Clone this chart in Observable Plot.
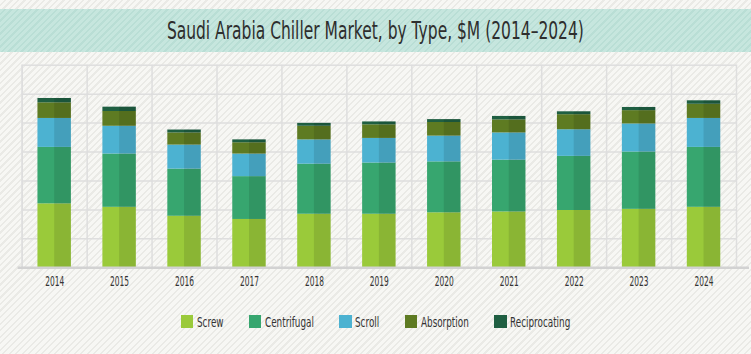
<!DOCTYPE html>
<html>
<head>
<meta charset="utf-8">
<script src="https://cdn.jsdelivr.net/npm/d3@7"></script>
<script src="https://cdn.jsdelivr.net/npm/@observablehq/plot@0.6"></script>
<style>
  html, body { margin: 0; padding: 0; }
  body {
    width: 751px; height: 354px; position: relative; overflow: hidden;
    background: repeating-linear-gradient(135deg, #f7f7f4 0px, #f7f7f4 3px, #eaeae6 3px, #eaeae6 4.6px);
    font-family: "DejaVu Sans", sans-serif;
    color: #333;
  }
  #banner {
    position: absolute; top: 9px; left: 0; width: 751px; height: 43px;
    background: repeating-linear-gradient(135deg, #c6e6de 0px, #c6e6de 3px, #b9ded5 3px, #b9ded5 4.6px);
    display: flex; align-items: center; justify-content: center;
  }
  #title { display: inline-block; font-size: 25px; color: #2e2e2e; white-space: nowrap; transform-origin: center; margin: 0; font-weight: normal; }
  #chart { position: absolute; top: 52px; left: 0; }
  #legend {
    position: absolute; top: 314px; left: 0; width: 751px; height: 15px;
    display: flex; justify-content: center; align-items: center; gap: 25.5px;
    font-size: 14px; color: #333;
  }
  .item { display: flex; align-items: center; }
  .sw { width: 12.5px; height: 12.5px; margin-right: 3.5px; flex: none; }
  .lbwrap { display: inline-block; overflow: visible; white-space: nowrap; }
  .lb { display: inline-block; transform-origin: left center; white-space: nowrap; }
</style>
</head>
<body>
<div id="banner"><h1 id="title">Saudi Arabia Chiller Market, by Type, $M (2014–2024)</h1></div>
<div id="chart"></div>
<div id="legend"></div>
<script>
const years = ["2014","2015","2016","2017","2018","2019","2020","2021","2022","2023","2024"];
const types = ["Screw","Centrifugal","Scroll","Absorption","Reciprocating"];
const colors = ["#9aca3a","#37a66f","#4cb2d1","#5e7b22","#1f5f42"];
const screw =         [221, 209, 178, 167, 185, 185, 190, 193, 198, 202, 209];
const centrifugal =   [195, 184, 163, 148, 173, 177, 176, 179, 187, 198, 207];
const scroll =        [100,  96,  83,  78,  84,  85,  89,  94,  92,  97, 100];
const absorption =    [ 54,  51,  42,  39,  47,  47,  47,  45,  52,  46,  49];
const reciprocating = [ 15,  15,  10,  10,  10,  10,  10,  12,  10,  11,  12];
const yTicks = [100, 200, 300, 400, 500, 600];

const series = [screw, centrifugal, scroll, absorption, reciprocating];
const rows = [];
years.forEach((yr, i) => types.forEach((t, j) => rows.push({year: yr, type: t, value: series[j][i]})));
const totals = years.map((yr, i) => ({year: yr, total: series.reduce((s, a) => s + a[i], 0)}));

const W = 751, mL = 21.7, mR = 15;
const step = (W - mL - mR) / years.length;
const padIn = 0.485;
const bw = step * (1 - padIn);

const plot = Plot.plot({
  width: W,
  height: 248,
  marginLeft: mL,
  marginRight: mR,
  marginTop: 12.7,
  marginBottom: 32.7,
  style: {background: "transparent", fontFamily: '"DejaVu Sans", sans-serif', fontSize: "14.5px", color: "#333"},
  x: {type: "band", domain: years, paddingInner: padIn, paddingOuter: padIn / 2, round: false, label: null},
  y: {domain: [0, 700], axis: null},
  color: {domain: types, range: colors},
  marks: [
    Plot.ruleY(yTicks, {stroke: "#dedede", strokeWidth: 1.5}),
    Plot.ruleX(years, {x: d => d, dx: -step / 2, stroke: "#dedede", strokeWidth: 1.5}),
    Plot.frame({stroke: "#dedede", strokeWidth: 1.5}),
    Plot.barY(rows, {x: "year", y: "value", fill: "type", order: types}),
    Plot.barY(totals, {x: "year", y: "total", fill: "#000", fillOpacity: 0.1, insetLeft: bw / 2}),
    Plot.ruleY([0], {stroke: "#d2d2d2", strokeWidth: 2.5, insetLeft: -4, insetRight: -13}),
    Plot.axisX({tickSize: 0, tickPadding: 8, fontSize: 14.5, fill: "#333"})
  ]
});
document.getElementById("chart").appendChild(plot);
d3.select(plot).selectAll("g[aria-label='x-axis tick label'] text")
  .attr("textLength", 19).attr("lengthAdjust", "spacingAndGlyphs");

const legend = document.getElementById("legend");
const items = [];
types.forEach((t, j) => {
  const it = document.createElement("div"); it.className = "item";
  const sw = document.createElement("div"); sw.className = "sw"; sw.style.background = colors[j];
  const wrap = document.createElement("span"); wrap.className = "lbwrap";
  const lb = document.createElement("span"); lb.className = "lb"; lb.textContent = t;
  wrap.appendChild(lb);
  it.appendChild(sw); it.appendChild(wrap); legend.appendChild(it);
  items.push([wrap, lb]);
});
const legendFactor = 0.63;
items.forEach(([wrap, lb]) => {
  const w = lb.getBoundingClientRect().width;
  lb.style.transform = `scaleX(${legendFactor})`;
  wrap.style.width = (w * legendFactor) + "px";
});

const title = document.getElementById("title");
const tw = title.getBoundingClientRect().width;
title.style.transform = `scaleX(${417 / tw})`;
</script>
</body>
</html>
